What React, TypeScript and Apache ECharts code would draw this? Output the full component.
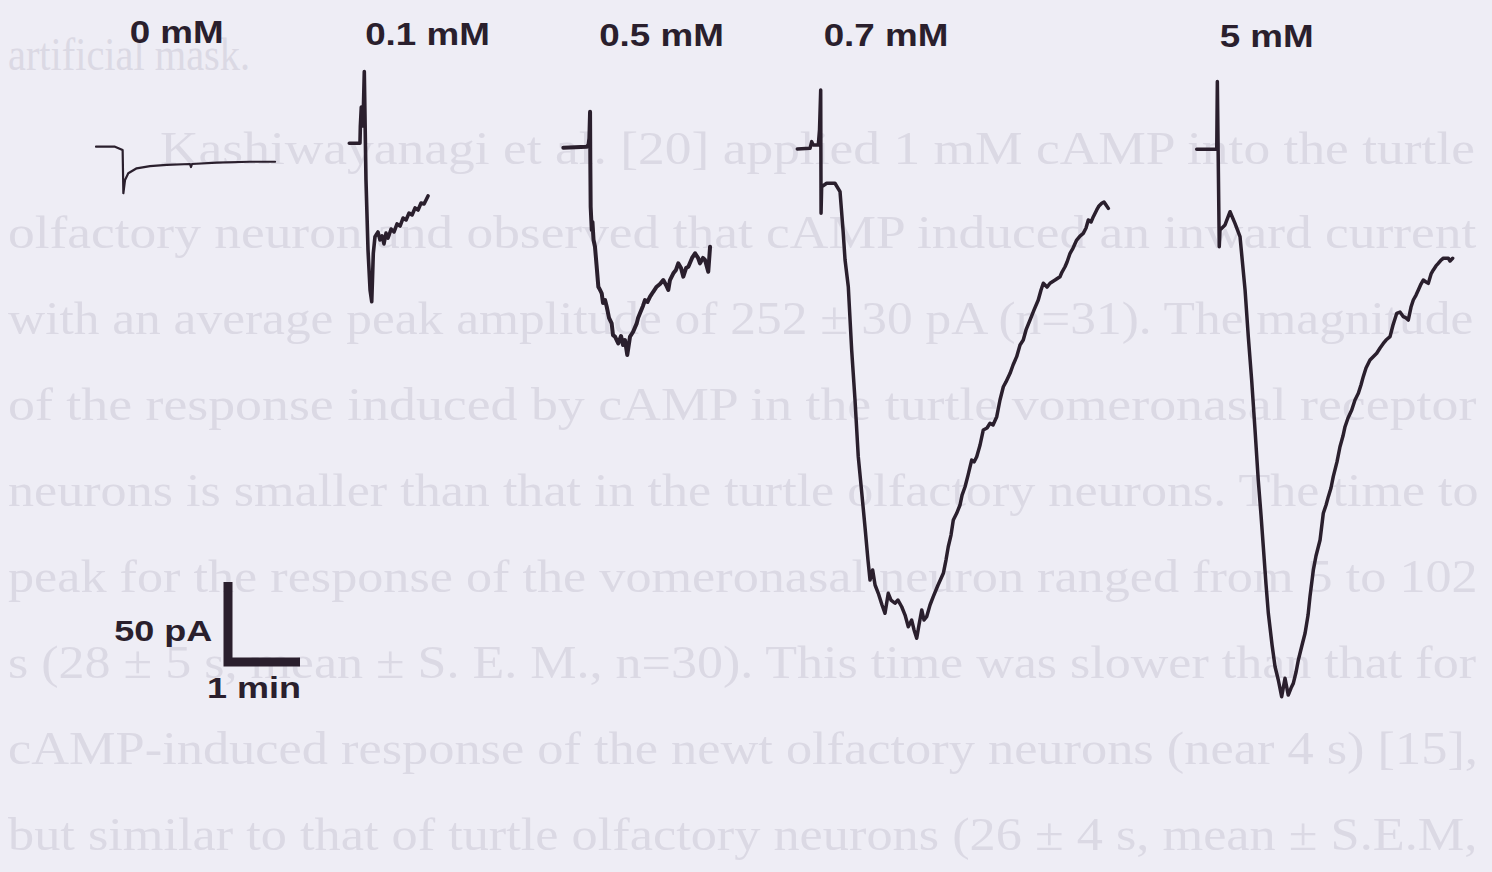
import React, { useEffect, useRef } from "react";
import * as echarts from "echarts";

// ---------- DATA (time in s from trace start, current in pA relative to the initial baseline) ----------
const concentrationLabels = ["0 mM", "0.1 mM", "0.5 mM", "0.7 mM", "5 mM"];

const trace0mM: [number, number][] = [
  [0, 0], [15.8, 0], [22.2, -2.1], [22.8, -29.1], [24.2, -20.8], [26.9, -16.6], [33.9, -13.5],
  [45, -12.1], [58.9, -11.4], [78.3, -10.8], [79.2, -12.7], [80, -10.8], [100.6, -10],
  [128.3, -9.4], [149.2, -9.4],
];

const trace01mM: [number, number][] = [
  [0, 0], [8.9, 0], [9.2, 10.4], [10, 22.7], [10.6, 22.7], [10.6, 10.8], [11.4, 10.8], [12.5, 44.8],
  [13.9, -22.9], [15.6, -66.7], [17.3, -91.7], [18.7, -99], [19.3, -85.4], [20, -68.8], [21.4, -58.4],
  [23.9, -55.4], [25.6, -60.4], [27.3, -57.9], [28.9, -62.9], [30.6, -56.1], [32.3, -59.2], [34.8, -53.6],
  [37.3, -55.4], [39.8, -50.4], [42.3, -51.7], [44.8, -46.7], [47.3, -47.9], [49.8, -43.6], [52.3, -44.8],
  [54.8, -40.4], [57.3, -41.7], [59.8, -37.3], [62.3, -37.9], [65.6, -32.9],
];

const trace05mM: [number, number][] = [
  [0, 0], [19.5, 0.6], [21, 1.7], [21.7, 5.9], [22.3, 22.5], [22.5, -7.7], [22.8, -36.9], [23.7, -51.4],
  [24.3, -46.4], [25.2, -57.7], [26.4, -61.9], [27.7, -73.3], [29.2, -86.9], [30.6, -88.9], [32, -91],
  [33.1, -97.1], [34.8, -95.2], [36.2, -99.4], [38.1, -106.4], [40.3, -109.8], [41.4, -117.1], [43.1, -118.1],
  [45.8, -122.3], [48.1, -117.7], [49.8, -123.3], [51.4, -120.2], [53.3, -129.6], [55.6, -118.1],
  [58.1, -115.2], [61.2, -109.8], [62.3, -106.4], [63.9, -103.5], [66.4, -98.9], [68.1, -95.2],
  [70.2, -96.4], [72.3, -93.1], [74.8, -90.2], [77.8, -86.9], [80.6, -85.2], [83.3, -82.7], [85.6, -85.8],
  [87.5, -88.9], [88.9, -82.7], [91.7, -78.5], [93.9, -76.4], [95.8, -72.3], [98.1, -75.2], [100, -80.6],
  [102.3, -75.2], [104.2, -74.4], [107.3, -68.9], [109.8, -66], [112.3, -68.9], [113.9, -72.3],
  [116.4, -68.9], [118.1, -70.2], [120.8, -77.5], [121.4, -71.4], [122.3, -61.9],
];

const trace07mM: [number, number][] = [
  [0, 0], [10.6, 0.4], [12, 4.6], [13.3, 2.5], [17.5, 2.5], [18.5, 11.9], [19.5, 36.9], [19.8, -40.2],
  [20.3, -23.6], [24.5, -21.4], [31.4, -21.4], [35.6, -26.7], [38.1, -50.6], [39.8, -69.4], [42.5, -86.1],
  [45.3, -125.6], [48.1, -156.9], [50.8, -192.3], [53.9, -216.3], [56.4, -236.1], [58.9, -256.9],
  [60.6, -269.4], [62.8, -263.1], [64.8, -272.5], [67.5, -277.7], [70.6, -285], [73.1, -290.2],
  [75.8, -277.7], [78.1, -281.9], [81.4, -283.9], [83.9, -281.9], [87, -286.1], [89.8, -291.3],
  [92.5, -298.6], [95.3, -294.4], [97.3, -300.6], [99.5, -305.8], [101.4, -297.5], [103.7, -288.1],
  [105.6, -294.4], [107.8, -292.3], [110.6, -285], [113.3, -279.8], [117.3, -272.5], [121.7, -265.2],
  [123.9, -256.9], [125.8, -248.6], [128.1, -241.3], [130, -231.9], [132.8, -227.7], [135.6, -222.5],
  [137.3, -216.3], [139.8, -211.1], [142.3, -203.8], [145.3, -194.4], [147.3, -195.6], [149.5, -192.3],
  [152.3, -185], [155, -175.6], [158.1, -174.4], [160.6, -171.4], [163.1, -172.5], [166.2, -167.3],
  [168.9, -156.9], [171.7, -148.6], [173.9, -145.6], [177.3, -140.2], [179.8, -135], [182.8, -129.8],
  [185.6, -122.5], [188.3, -119.4], [190.6, -113.1], [193.9, -106.9], [197.3, -100.6], [200.8, -94.4],
  [203.1, -88.1], [205, -83.9], [208.1, -86.3], [210.6, -83.9], [214.8, -81.9], [218.9, -79.8],
  [220.6, -76.9], [223.1, -73.6], [224.8, -70.6], [227.3, -65.2], [229.8, -61.9], [232.8, -56.9],
  [235.6, -54.4], [238.3, -52.7], [240.6, -49.4], [242.5, -44.4], [244.8, -45.6], [246.7, -42.3],
  [249.5, -38.1], [251.4, -35.6], [253.7, -33.9], [255.6, -33.1], [257.3, -35], [259.2, -37.1],
];

const trace5mM: [number, number][] = [
  [0, 0], [16.7, 0], [17.2, 42.3], [18.8, -60.9], [19.4, -50.4], [23.6, -47.3], [27.8, -39], [31.9, -46.3],
  [36.1, -54.6], [40.3, -87.9], [43, -117.1], [45.8, -144.2], [48.6, -175.4], [51.3, -206.7], [53.6, -228.6],
  [55.5, -248.4], [57.8, -272.3], [59.7, -290], [62.8, -309.8], [65.3, -323.4], [68, -331.7], [70.8, -342.1],
  [73.6, -330.6], [76.3, -341.1], [78.6, -336.7], [80.5, -333.8], [82.8, -326.7], [84.7, -319.2],
  [87.8, -309.8], [90.3, -302.5], [92.8, -291.1], [94.4, -279.6], [97.2, -262.9], [99.4, -254.2],
  [102.8, -244.2], [105.5, -227.5], [107.8, -222.3], [109.7, -217.1], [111.9, -211.7], [113.8, -204.6],
  [116.9, -195.4], [119.4, -185.9], [121.9, -179.2], [123.6, -173.4], [126.1, -167.9], [129.2, -162.9],
  [131.9, -156.7], [134.7, -152.5], [136.9, -147.3], [138.8, -142.1], [141.1, -136.7], [144.4, -131.7],
  [146.9, -129.8], [150, -127.5], [152.8, -124.2], [155.5, -121.3], [157.8, -119.2], [161.1, -117.1],
  [163.6, -109.8], [166.7, -102.5], [169.4, -101.7], [172.2, -104.6], [174.4, -105.4], [176.3, -106.7],
  [178.6, -98.6], [180.5, -94.2], [182.8, -91.1], [184.7, -87.9], [186.9, -84.2], [188.8, -81.7],
  [191.1, -82.9], [193, -83.8], [195.3, -77.9], [197.2, -75.4], [199.4, -72.9], [201.3, -71.3],
  [203.6, -69.2], [205.5, -68.1], [209.7, -68.1], [211.1, -69.8], [213.3, -68.1],
];

const scaleBarCurrentPA = 50;
const scaleBarTimeMin = 1;
const scaleBarLabels = ["50 pA", "1 min"];

const backgroundLines = [
  "artificial mask.",
  "Kashiwayanagi et al. [20] applied 1 mM cAMP into the turtle",
  "olfactory neuron and observed that cAMP induced an inward current",
  "with an average peak amplitude of 252 ± 30 pA (n=31). The magnitude",
  "of the response induced by cAMP in the turtle vomeronasal receptor",
  "neurons is smaller than that in the turtle olfactory neurons. The time to",
  "peak for the response of the vomeronasal neuron ranged from 5 to 102",
  "s (28 ± 5 s, mean ± S. E. M., n=30). This time was slower than that for",
  "cAMP-induced response of the newt olfactory neurons (near 4 s) [15],",
  "but similar to that of turtle olfactory neurons (26 ± 4 s, mean ± S.E.M,",
];

// ---------- LAYOUT ----------
const W = 1492;
const H = 872;
const PX_PER_MIN = 72;
const PX_PER_PA = 1.6;
const traces = [trace0mM, trace01mM, trace05mM, trace07mM, trace5mM];
const traceOriginsPx = [[96, 146.7], [349.3, 143.3], [563.3, 147.7], [797.3, 149], [1196.7, 149.3]];
const traceWidths = [2.2, 3.6, 4, 3.5, 3.5];
const labelPosPx = [[176.7, 32], [427.5, 33.5], [661.5, 35], [886, 35], [1266.7, 36]];
const scaleCornerPx = [228, 662];
const bgLayout = [
  [8, 250, 54], [160, 1478, 148], [8, 1478, 232], [8, 1478, 318], [8, 1478, 404],
  [8, 1480, 490], [8, 1478, 576], [8, 1478, 662], [8, 1478, 748], [8, 1478, 834],
];

const INK = "#2a1f2d";
const BG = "#eeedf5";
const FAINT = "#dbd9e4";

const toAxis = (origin: number[], p: [number, number]) => [
  origin[0] / PX_PER_MIN + p[0] / 60,
  -origin[1] / PX_PER_PA + p[1],
];

export default function App() {
  const ref = useRef<HTMLDivElement>(null);
  useEffect(() => {
    document.body.style.margin = "0";
    document.body.style.background = BG;
    const chart = echarts.init(ref.current!, undefined, { renderer: "svg" });

    const canvas = document.createElement("canvas");
    const ctx = canvas.getContext("2d")!;
    const bgFontSize = 47;
    ctx.font = `${bgFontSize}px "Liberation Serif"`;

    const bgTexts = backgroundLines.map((line, i) => {
      const [left, right, y] = bgLayout[i];
      const w = ctx.measureText(line).width || 1;
      return {
        type: "text",
        x: left,
        y,
        scaleX: (right - left) / w,
        z: 0,
        silent: true,
        style: {
          text: line,
          fontSize: bgFontSize,
          fontFamily: "Liberation Serif",
          fill: FAINT,
          align: "left",
          verticalAlign: "middle",
        },
      };
    });

    const titleTexts = concentrationLabels.map((t, i) => ({
      type: "text",
      x: labelPosPx[i][0],
      y: labelPosPx[i][1],
      scaleX: 1.15,
      z: 10,
      style: {
        text: t,
        fontSize: 32,
        fontWeight: "bold",
        fontFamily: "Liberation Sans",
        fill: INK,
        align: "center",
        verticalAlign: "middle",
      },
    }));

    const barTexts = [
      { text: scaleBarLabels[0], x: 163.3, y: 631 },
      { text: scaleBarLabels[1], x: 254, y: 687.5 },
    ].map((o) => ({
      type: "text",
      x: o.x,
      y: o.y,
      scaleX: 1.2,
      z: 10,
      style: {
        text: o.text,
        fontSize: 30,
        fontWeight: "bold",
        fontFamily: "Liberation Sans",
        fill: INK,
        align: "center",
        verticalAlign: "middle",
      },
    }));

    const corner = [scaleCornerPx[0] / PX_PER_MIN, -scaleCornerPx[1] / PX_PER_PA];
    const scaleBarData = [
      [corner[0], corner[1] + scaleBarCurrentPA],
      corner,
      [corner[0] + scaleBarTimeMin, corner[1]],
    ];

    const series: any[] = traces.map((tr, i) => ({
      type: "line",
      name: concentrationLabels[i],
      data: tr.map((p) => toAxis(traceOriginsPx[i], p)),
      showSymbol: false,
      symbol: "none",
      silent: true,
      z: 5,
      lineStyle: { color: INK, width: traceWidths[i], join: "round", cap: "round" },
    }));
    series.push({
      type: "line",
      name: "scale bar",
      data: scaleBarData,
      showSymbol: false,
      symbol: "none",
      silent: true,
      z: 5,
      lineStyle: { color: INK, width: 9, join: "miter", cap: "butt" },
    });

    chart.setOption({
      animation: false,
      backgroundColor: BG,
      grid: { left: 0, right: 0, top: 0, bottom: 0 },
      xAxis: { type: "value", min: 0, max: W / PX_PER_MIN, show: false },
      yAxis: { type: "value", min: -H / PX_PER_PA, max: 0, show: false },
      graphic: [...bgTexts, ...titleTexts, ...barTexts],
      series,
    });
    return () => chart.dispose();
  }, []);
  return (
    <div
      ref={ref}
      style={{ position: "fixed", left: 0, top: 0, width: W, height: H, background: BG }}
    />
  );
}
